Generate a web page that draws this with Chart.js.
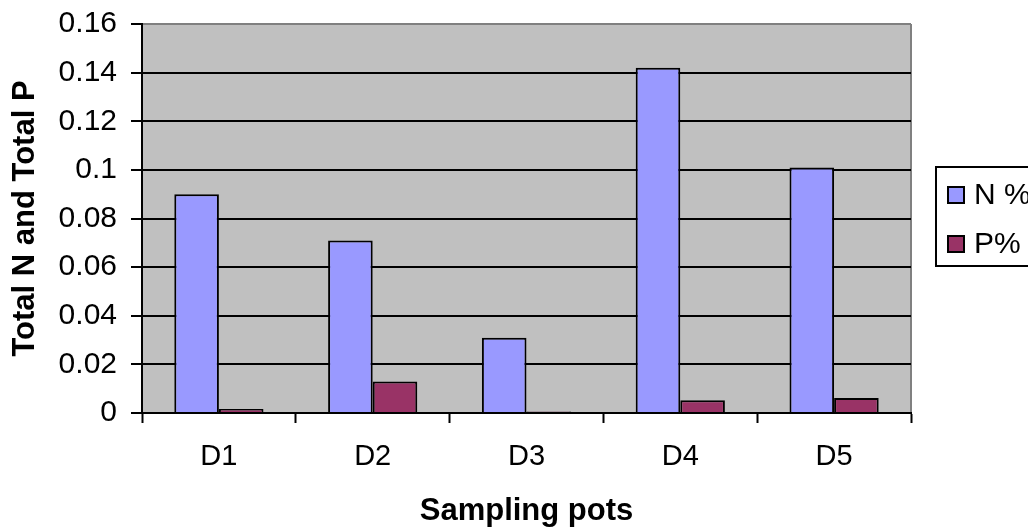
<!DOCTYPE html>
<html lang="en">
<head>
  <meta charset="UTF-8" />
  <title>Total N and Total P</title>
  <style>
    body {
      margin: 0;
      background: #ffffff;
      overflow: hidden;
    }

    #wrap {
      width: 1028px;
      height: 527px;
    }
  </style>
</head>
<body>
  <div id="wrap">
    <canvas id="npChart" width="1028" height="527"></canvas>
  </div>

  <script src="https://cdn.jsdelivr.net/npm/chart.js"></script>
  <script>
    // values
    const pots = ['D1', 'D2', 'D3', 'D4', 'D5'];
    const nPercent = [0.090, 0.071, 0.031, 0.142, 0.101];
    const pPercent = [0.0016, 0.013, 0.0006, 0.0052, 0.0062];
    const yTicks = [0, 0.02, 0.04, 0.06, 0.08, 0.1, 0.12, 0.14, 0.16];

    const font = 'Liberation Sans, Arial, sans-serif';

    // grey plot area, grey right edge
    const plotBackground = {
      id: 'plotBackground',
      beforeDraw(chart) {
        const { ctx, chartArea: a } = chart;
        ctx.save();
        ctx.fillStyle = '#c0c0c0';
        ctx.fillRect(a.left, a.top, a.right - a.left, a.bottom - a.top);
        ctx.strokeStyle = '#808080';
        ctx.lineWidth = 2;
        ctx.beginPath();
        ctx.moveTo(a.right, a.top);
        ctx.lineTo(a.right, a.bottom);
        ctx.stroke();
        ctx.restore();
      }
    };

    // boxed legend on the right, cut off by the page edge like the original
    const boxLegend = {
      id: 'boxLegend',
      afterDraw(chart) {
        const { ctx } = chart;
        const x = 936, y = 167, w = 110, h = 99;
        ctx.save();
        ctx.fillStyle = '#ffffff';
        ctx.fillRect(x, y, w, h);
        ctx.strokeStyle = '#000';
        ctx.lineWidth = 2;
        ctx.strokeRect(x, y, w, h);
        ctx.font = '30px ' + font;
        ctx.textBaseline = 'middle';
        chart.data.datasets.forEach((ds, i) => {
          const cy = 195 + i * 49;
          ctx.fillStyle = ds.backgroundColor;
          ctx.fillRect(948, cy - 8, 16, 16);
          ctx.strokeRect(948, cy - 8, 16, 16);
          ctx.fillStyle = '#000';
          ctx.fillText(ds.label, 974, cy + 1);
        });
        ctx.restore();
      }
    };

    const ctx = document.getElementById('npChart').getContext('2d');
    new Chart(ctx, {
      type: 'bar',
      data: {
        labels: pots,
        datasets: [
          {
            label: 'N %',
            data: nPercent,
            backgroundColor: '#9999ff',
            borderColor: '#000',
            borderWidth: 2
          },
          {
            label: 'P%',
            data: pPercent,
            backgroundColor: '#993366',
            borderColor: '#000',
            borderWidth: 2
          }
        ]
      },
      options: {
        responsive: false,
        animation: false,
        layout: {
          autoPadding: false,
          padding: { top: 24, right: 117, left: 0, bottom: 0 }
        },
        datasets: {
          bar: { categoryPercentage: 0.58, barPercentage: 1 }
        },
        plugins: {
          legend: { display: false },
          tooltip: { enabled: false }
        },
        scales: {
          x: {
            afterFit(scale) { scale.height = 114; },
            grid: {
              offset: true,
              drawOnChartArea: false,
              drawTicks: true,
              tickLength: 10,
              tickColor: '#000',
              tickWidth: 2
            },
            border: { color: '#000', width: 2 },
            ticks: {
              color: '#000',
              padding: 17,
              font: { family: font, size: 29 }
            },
            title: {
              display: true,
              text: 'Sampling pots',
              color: '#000',
              padding: { top: 0, bottom: 0 },
              font: { family: font, size: 31, weight: 'bold', lineHeight: 1 }
            }
          },
          y: {
            min: 0,
            max: 0.16,
            afterFit(scale) {
              scale.width = 142;
              scale.paddingTop = 0;
              scale.paddingBottom = 0;
            },
            afterBuildTicks(scale) {
              scale.ticks = yTicks.map(v => ({ value: v }));
            },
            grid: {
              color: c => (c.tick && c.tick.value === 0.16 ? '#808080' : '#000'),
              lineWidth: 2,
              tickLength: 11,
              tickColor: '#000',
              tickWidth: 2
            },
            border: { color: '#000', width: 2 },
            ticks: {
              color: '#000',
              padding: 14,
              font: { family: font, size: 30 },
              callback: v => String(v)
            },
            title: {
              display: true,
              text: 'Total N and Total P',
              color: '#000',
              padding: { top: 10, bottom: 0 },
              font: { family: font, size: 31, weight: 'bold', lineHeight: 1 }
            }
          }
        }
      },
      plugins: [plotBackground, boxLegend]
    });
  </script>
</body>
</html>
